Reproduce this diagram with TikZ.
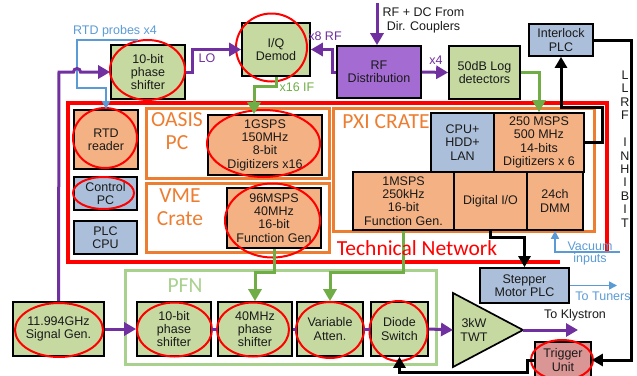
\documentclass[tikz,border=0pt]{standalone}
\usepackage{fontspec}
\setmainfont{Liberation Sans}
\newfontfamily\carl{Carlito}
\usetikzlibrary{arrows.meta}
\definecolor{gfill}{HTML}{C5D9A1}
\definecolor{ofill}{HTML}{F4B183}
\definecolor{bfill}{HTML}{ACBFDA}
\definecolor{pfill}{HTML}{A46CD3}
\definecolor{tfill}{HTML}{D99694}
\definecolor{purp}{HTML}{7030A0}
\definecolor{grn}{HTML}{70AD47}
\definecolor{lgrn}{HTML}{A9D18E}
\definecolor{orn}{HTML}{ED7D31}
\definecolor{blu}{HTML}{5B9BD5}
\definecolor{txt}{HTML}{1A1A1A}
\begin{document}
\begin{tikzpicture}[x=1pt,y=-1pt,
  box/.style={draw=black,line width=1.7pt,align=center,inner sep=0pt,text=txt,font=\fontsize{12.5}{13.3}\selectfont},
  gbox/.style={box,fill=gfill}, obox/.style={box,fill=ofill}, bbox/.style={box,fill=bfill},
  sz/.style 2 args={minimum width=#1pt,minimum height=#2pt},
  ell/.style={draw=red,line width=2pt},
  frame/.style={draw=orn,line width=3pt},
  parr/.style={draw=purp,line width=3pt,-{Triangle[length=12pt,width=13pt]}},
  pline/.style={draw=purp,line width=3pt},
  garr/.style={draw=grn,line width=3pt,-{Triangle[length=12pt,width=13pt]}},
  karr/.style={draw=black,line width=3pt,-{Triangle[length=11pt,width=12pt]}},
  barr/.style={draw=blu,line width=1.5pt,-{Triangle[length=8pt,width=8pt]}},
  lbl/.style={inner sep=0pt,font=\fontsize{12.5}{13.3}\selectfont,align=center},
  big/.style={inner sep=0pt,font=\carl\fontsize{21.5}{23}\selectfont,align=center},
]
\useasboundingbox (0,0) rectangle (637,375);

% frames
\draw[red,line width=3.5pt] (560,262) -- (68,262) -- (68,103) -- (607,103) -- (607,253);
\draw[frame] (146,108) rectangle (329,178);
\draw[frame] (146,183) rectangle (329,252);
\draw[frame] (333,108) rectangle (594,231);
\draw[lgrn,line width=3pt] (125,270) rectangle (436,364);

% boxes
\node[gbox,sz={74}{54}] (ps1) at (148,72) {10-bit\\phase\\shifter};
\node[gbox,sz={68}{53}] (iq) at (276,49.5) {I/Q\\Demod};
\node[box,fill=pfill,sz={84}{52}] (rfd) at (379,72) {RF\\Distribution};
\node[gbox,sz={71}{53}] (logd) at (484.5,72.5) {50dB Log\\detectors};
\node[bbox,sz={64}{32}] (ilk) at (561,40) {Interlock\\PLC};
\node[obox,sz={64}{59}] (rtd) at (106,139.5) {RTD\\reader};
\node[bbox,sz={63}{33}] (cpc) at (105.5,193.5) {Control\\PC};
\node[bbox,sz={63}{33}] (plc) at (105.5,237.5) {PLC\\CPU};
\node[obox,sz={114}{60}] (gsps) at (265,145) {1GSPS\\150MHz\\8-bit\\Digitizers x16};
\node[obox,sz={94}{60}] (fg96) at (274,218) {96MSPS\\40MHz\\16-bit\\Function Gen};
\node[bbox,sz={63}{59}] (cpu) at (462.5,142.5) {CPU+\\HDD+\\LAN};
\node[obox,sz={90}{59}] (m250) at (539,142.5) {250 MSPS\\500 MHz\\14-bits\\Digitizers x 6};
\node[obox,sz={101}{58}] (fg1) at (403.5,201) {1MSPS\\250kHz\\16-bit\\Function Gen.};
\node[obox,sz={73}{58}] (dio) at (490.5,201) {Digital I/O};
\node[obox,sz={56}{58}] (dmm) at (555,201) {24ch\\DMM};
\node[bbox,sz={89}{35}] (step) at (524.5,285.5) {Stepper\\Motor PLC};
\node[gbox,sz={91}{54}] (sg) at (58.5,329) {11.994GHz\\Signal Gen.};
\node[gbox,sz={74}{54}] (ps2) at (174,329) {10-bit\\phase\\shifter};
\node[gbox,sz={74}{54}] (ps40) at (255,329) {40MHz\\phase\\shifter};
\node[gbox,sz={66}{54}] (va) at (330,329) {Variable\\Atten.};
\node[gbox,sz={57}{54}] (ds) at (399.5,329) {Diode\\Switch};
\node[box,fill=tfill,sz={56}{36}] (trig) at (563,360) {Trigger\\Unit};

% TWT amplifier
\coordinate (twtW) at (453,330);
\coordinate (twtT) at (523,330);
\draw[draw=black,line width=1.7pt,fill=gfill] (453,293) -- (twtT) -- (453,367) -- cycle;
\node[lbl,text=txt] (twt) at (474,330) {3kW\\TWT};

% ellipses
\draw[ell] (147.5,70) ellipse [x radius=37.5pt,y radius=30pt];
\draw[ell] (271.5,47.5) ellipse [x radius=35.5pt,y radius=34pt];
\draw[ell] (105,138) ellipse [x radius=32pt,y radius=30pt];
\draw[ell] (103.5,193) ellipse [x radius=30.5pt,y radius=16pt];
\draw[ell] (263.5,143.5) ellipse [x radius=56.5pt,y radius=33.5pt];
\draw[ell] (272.5,220.5) ellipse [x radius=47.5pt,y radius=37pt];
\draw[ell] (59,330) ellipse [x radius=44pt,y radius=27pt];
\draw[ell] (174.5,329.5) ellipse [x radius=37.5pt,y radius=27pt];
\draw[ell] (253,329.5) ellipse [x radius=36pt,y radius=27pt];
\draw[ell] (330,330) ellipse [x radius=34pt,y radius=28pt];
\draw[ell] (398.5,331) ellipse [x radius=29pt,y radius=30pt];
\draw[ell] (562,360) ellipse [x radius=31pt,y radius=20pt];

% blue lines
\coordinate (rtdin) at (138,40);
\draw[barr] (rtdin) -| (77,88) -| (rtd.north);
\coordinate (tun) at (617,285.5);
\draw[barr] (step.east) -- (tun);
\coordinate (vac) at (620,252);
\draw[barr] (vac) -| (dmm.south);

% purple lines
\draw[parr] (sg.north) -- (59,72) -- (73.5,72) arc[start angle=180,end angle=0,radius=3.5pt] -- (ps1.west);
\draw[parr] (ps1.east) -- ++(7,0) |- (iq.west);
\draw[parr] (rfd.west) -- ++(-4,0) |- (iq.east);
\coordinate (rfin) at (377,3);
\draw[parr] (rfin) -- (rfin |- rfd.north);
\draw[parr] (rfd.east) -- (logd.west);
\draw[parr] (sg.east) -- (ps2.west);
\draw[pline] (ps2.east) -- (ps40.west);
\draw[pline] (ps40.east) -- (va.west);
\draw[pline] (va.east) -- (ds.west);
\draw[parr] (ds.east) -- (twtW);
\coordinate (kly) at (578,330);
\draw[parr] (twtT) -- (kly);

% green lines
\draw[garr] (iq.south) -- ++(0,10) -| ([xshift=-11pt]gsps.north);
\draw[garr] (logd.east) -| (m250.north);
\draw[garr] (fg96.south) -- ++(0,24) -| (ps40.north);
\draw[garr] (fg1.south) -- ++(0,42) -| (va.north);

% black lines
\draw[karr] (m250.east) -- ++(18,0) -- ++(0,-35) -| (ilk.south);
\draw[karr] (ilk.east) -- ++(38,0) |- (trig.east);
\draw[karr] (dio.south) -- ++(0,7) -| (step.north);
\draw[karr] (trig.west) -- ++(-7,0) -- ++(0,12) -| (ds.south);

% labels
\node[lbl,text=blu] (rtdlbl) at (115,31) {RTD probes x4};
\node[lbl,text=purp] (lolbl) at (207,58) {LO};
\node[lbl,text=purp] (x8lbl) at (325,36) {x8 RF};
\node[lbl,text=purp] (x4lbl) at (436,60) {x4};
\node[lbl,text=grn] (x16lbl) at (297,87) {x16 IF};
\node[lbl,text=txt] (rfdc) at (423.5,20.5) {RF + DC From\\Dir. Couplers};
\node[lbl,text=blu] (vaclbl) at (590,246) {Vacuum};
\node[lbl,text=blu] (inplbl) at (590,259) {inputs};
\node[lbl,text=blu] (tunlbl) at (603,296) {To Tuners};
\node[lbl,text=txt] (klylbl) at (575,315) {To Klystron};
\node[lbl,text=txt,font=\fontsize{12.5}{13.45}\selectfont] (llrf) at (625,149) {L\\L\\R\\F\\\mbox{}\\I\\N\\H\\I\\B\\I\\T};
\node[big,text=red] (tn) at (417,248) {Technical Network};
\node[big,text=orn] (oasis) at (177,131) {OASIS\\PC};
\node[big,text=orn] (vme) at (180,207) {VME\\Crate};
\node[big,text=orn] (pxi) at (386,122) {PXI CRATE};
\node[big,text=lgrn] (pfn) at (185,286) {PFN};
\end{tikzpicture}
\end{document}
